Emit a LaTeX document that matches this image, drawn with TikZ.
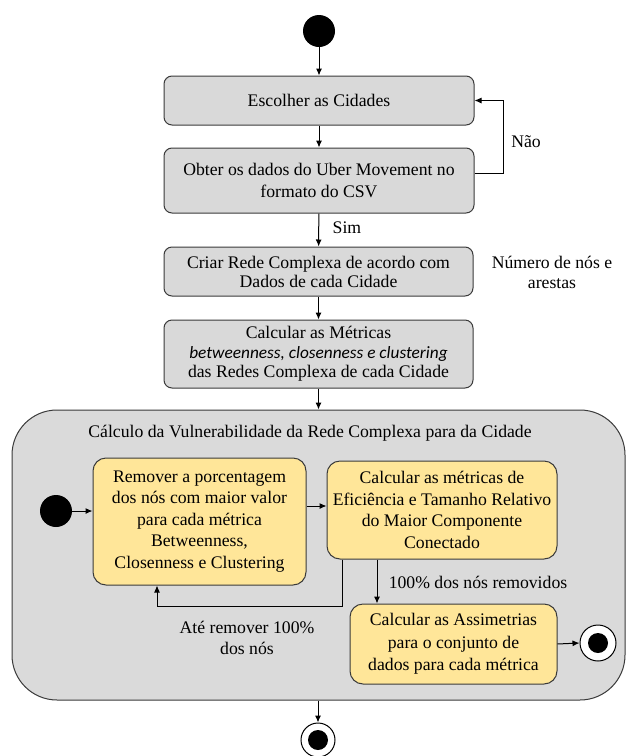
\documentclass[tikz,border=0pt]{standalone}
\usepackage{fontspec}
\setmainfont{Liberation Serif}
\newfontfamily\itsans{Carlito}
\usetikzlibrary{arrows.meta,calc}
\definecolor{boxgray}{HTML}{D9D9D9}
\definecolor{contgray}{HTML}{DADADA}
\definecolor{boxyellow}{HTML}{FFE699}
\definecolor{edgegray}{HTML}{3A3A3A}
\begin{document}
\begin{tikzpicture}[x=1pt,y=-1pt,
  every node/.style={font=\rmfamily\fontsize{17.7}{21.5}\selectfont},
  graybox/.style={draw=edgegray,line width=1pt,fill=boxgray,rounded corners=8pt,align=center,inner sep=0pt},
  yelbox/.style={draw=edgegray,line width=1pt,fill=boxyellow,rounded corners=13pt,align=center,inner sep=0pt},
  container/.style={draw=edgegray,line width=1pt,fill=contgray,rounded corners=45pt,inner sep=0pt},
  startdot/.style={circle,fill=black,inner sep=0pt,minimum size=32pt},
  enddot/.style={circle,draw=black,fill=white,line width=1pt,inner sep=0pt,minimum size=34pt,
    path picture={\fill[black] (path picture bounding box.center) circle[radius=10pt];}},
  arr/.style={draw=black,line width=1pt,-{Latex[length=7pt,width=6pt]}},
  lbl/.style={align=center,inner sep=0pt}
]
\useasboundingbox (0,0) rectangle (625,756);

\node[startdot] (start) at (319,31) {};
\node[graybox,minimum width=310pt,minimum height=49pt] (box1) at (319,100.5) {Escolher as Cidades};
\node[graybox,minimum width=310pt,minimum height=65pt] (box2) at (319,180.5) {Obter os dados do Uber Movement no\\formato do CSV};
\node[graybox,minimum width=309pt,minimum height=49pt,font=\rmfamily\fontsize{17.7}{19}\selectfont] (box3) at (318.5,271.5) {Criar Rede Complexa de acordo com\\Dados de cada Cidade};
\node[graybox,minimum width=309pt,minimum height=68pt,font=\rmfamily\fontsize{17.7}{19.5}\selectfont] (box4) at (318.5,354) {Calcular as Métricas\\{\itsans\itshape\fontsize{17.3}{19.5}\selectfont betweenness, closenness e clustering}\\das Redes Complexa de cada Cidade};

\node[container,minimum width=613pt,minimum height=290pt] (cont) at (318.5,555) {};
\node[lbl] (title) at (310,433) {Cálculo da Vulnerabilidade da Rede Complexa para da Cidade};

\node[startdot,minimum size=32pt] (istart) at (56,511) {};
\node[yelbox,minimum width=213pt,minimum height=127pt] (boxA) at (199.5,521.5) {Remover a porcentagem\\dos nós com maior valor\\para cada métrica\\Betweenness,\\Closenness e Clustering};
\node[yelbox,minimum width=230pt,minimum height=98pt] (boxB) at (442,510) {Calcular as métricas de\\Eficiência e Tamanho Relativo\\do Maior Componente\\Conectado};
\node[yelbox,minimum width=207pt,minimum height=80pt,font=\rmfamily\fontsize{17.7}{22.5}\selectfont] (boxC) at (453.5,644) {Calcular as Assimetrias\\para o conjunto de\\dados para cada métrica};

\node[enddot,minimum size=36pt] (iend) at (598,643) {};
\node[enddot] (fend) at (318,740) {};

% labels
\node[lbl] (sim) at (347,228) {Sim};
\node[lbl] (nao) at (526,142) {Não};
\node[lbl,font=\rmfamily\fontsize{17.7}{20}\selectfont] (note) at (552,272) {Número de nós e\\arestas};
\node[lbl] (rem) at (478,582) {100\% dos nós removidos};
\node[lbl] (ate) at (247,638) {Até remover 100\%\\dos nós};

% connectors
\draw[arr] (start) -- (box1);
\draw[arr] (box1) -- (box2);
\draw[arr] (box2) -- (box3);
\draw[arr] ([yshift=7.5pt]box2.east) -- ++(29,0) |- (box1.east);
\draw[arr] (box3) -- (box4);
\draw[arr] (box4.south) -- (box4.south |- cont.north);
\draw[arr] (cont.south -| fend) -- (fend);
\draw[arr] (istart.east) -- (istart.east -| boxA.west);
\draw[arr] ([yshift=15.5pt]boxA.east) -- ([yshift=15.5pt]boxA.east -| boxB.west);
\draw[arr] ([xshift=-100pt]boxB.south) |- ([xshift=-42.5pt,yshift=-21pt]boxA.south) -- ([xshift=-42.5pt]boxA.south);
\draw[arr] ([xshift=-65pt]boxB.south) -- ([xshift=-65pt]boxB.south |- boxC.north);
\draw[arr] (boxC.east) -- (iend.west);
\end{tikzpicture}
\end{document}
